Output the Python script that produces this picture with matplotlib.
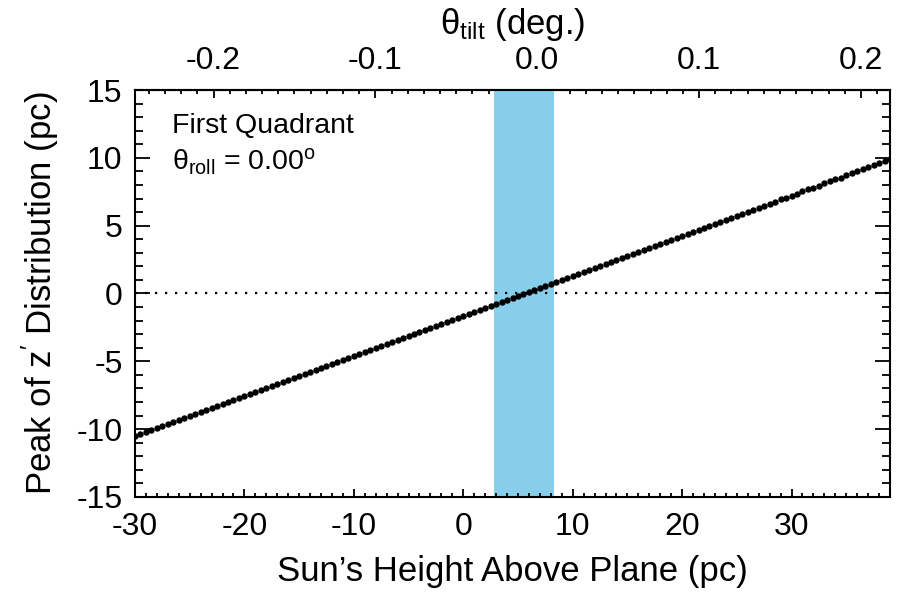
import matplotlib
matplotlib.use("Agg")
import matplotlib.pyplot as plt
from matplotlib.ticker import MultipleLocator

plt.rcParams["font.family"] = ["Liberation Sans", "DejaVu Sans"]
plt.rcParams["mathtext.fontset"] = "custom"
plt.rcParams["mathtext.rm"] = "Liberation Sans"
plt.rcParams["mathtext.it"] = "Liberation Sans:italic"
plt.rcParams["axes.unicode_minus"] = False

# DATA
sun_height = [
    -30.0, -29.5, -29.0, -28.5, -28.0, -27.5, -27.0, -26.5, -26.0, -25.5,
    -25.0, -24.5, -24.0, -23.5, -23.0, -22.5, -22.0, -21.5, -21.0, -20.5,
    -20.0, -19.5, -19.0, -18.5, -18.0, -17.5, -17.0, -16.5, -16.0, -15.5,
    -15.0, -14.5, -14.0, -13.5, -13.0, -12.5, -12.0, -11.5, -11.0, -10.5,
    -10.0, -9.5, -9.0, -8.5, -8.0, -7.5, -7.0, -6.5, -6.0, -5.5,
    -5.0, -4.5, -4.0, -3.5, -3.0, -2.5, -2.0, -1.5, -1.0, -0.5,
    0.0, 0.5, 1.0, 1.5, 2.0, 2.5, 3.0, 3.5, 4.0, 4.5,
    5.0, 5.5, 6.0, 6.5, 7.0, 7.5, 8.0, 8.5, 9.0, 9.5,
    10.0, 10.5, 11.0, 11.5, 12.0, 12.5, 13.0, 13.5, 14.0, 14.5,
    15.0, 15.5, 16.0, 16.5, 17.0, 17.5, 18.0, 18.5, 19.0, 19.5,
    20.0, 20.5, 21.0, 21.5, 22.0, 22.5, 23.0, 23.5, 24.0, 24.5,
    25.0, 25.5, 26.0, 26.5, 27.0, 27.5, 28.0, 28.5, 29.0, 29.5,
    30.0, 30.5, 31.0, 31.5, 32.0, 32.5, 33.0, 33.5, 34.0, 34.5,
    35.0, 35.5, 36.0, 36.5, 37.0, 37.5, 38.0, 38.5, 39.0,
]
peak_z = [
    -10.54, -10.39, -10.24, -10.09, -9.95, -9.80, -9.65, -9.50, -9.35, -9.21,
    -9.06, -8.91, -8.76, -8.61, -8.47, -8.32, -8.17, -8.02, -7.87, -7.73,
    -7.58, -7.43, -7.28, -7.13, -6.99, -6.84, -6.69, -6.54, -6.39, -6.25,
    -6.10, -5.95, -5.80, -5.65, -5.51, -5.36, -5.21, -5.06, -4.91, -4.77,
    -4.62, -4.47, -4.32, -4.17, -4.03, -3.88, -3.73, -3.58, -3.43, -3.29,
    -3.14, -2.99, -2.84, -2.69, -2.55, -2.40, -2.25, -2.10, -1.95, -1.81,
    -1.66, -1.51, -1.36, -1.21, -1.07, -0.92, -0.77, -0.62, -0.47, -0.33,
    -0.18, -0.03, 0.12, 0.27, 0.41, 0.56, 0.71, 0.86, 1.01, 1.15,
    1.30, 1.45, 1.60, 1.75, 1.89, 2.04, 2.19, 2.34, 2.49, 2.63,
    2.78, 2.93, 3.08, 3.23, 3.37, 3.52, 3.67, 3.82, 3.97, 4.11,
    4.26, 4.41, 4.56, 4.71, 4.85, 5.00, 5.15, 5.30, 5.45, 5.59,
    5.74, 5.89, 6.04, 6.19, 6.33, 6.48, 6.63, 6.78, 6.93, 7.07,
    7.22, 7.37, 7.52, 7.67, 7.81, 7.96, 8.11, 8.26, 8.41, 8.55,
    8.70, 8.85, 9.00, 9.15, 9.29, 9.44, 9.59, 9.74, 9.89,
]
band_range = [2.83, 8.25]
x_ticks = [-30, -20, -10, 0, 10, 20, 30]
y_ticks = [-15, -10, -5, 0, 5, 10, 15]
tilt_ticks = [-0.2, -0.1, 0.0, 0.1, 0.2]
tilt_labels = ["-0.2", "-0.1", "0.0", "0.1", "0.2"]

# conversion between sun height (pc) and tilt angle (deg)
Z_ZERO_TILT = 6.76
DEG_PER_PC = 0.00676


def to_tilt(z):
    return (z - Z_ZERO_TILT) * DEG_PER_PC


def from_tilt(t):
    return t / DEG_PER_PC + Z_ZERO_TILT


fig = plt.figure(figsize=(9, 6), dpi=100)
ax = fig.add_axes([0.15, 0.1717, 0.8389, 0.6783])

ax.axvspan(band_range[0], band_range[1], color="#87ceeb", lw=0, zorder=1)
ax.axhline(0, color="black", ls=(0, (1, 3.5)), lw=1.6, zorder=2)
ax.plot(sun_height, peak_z, "o", color="black", ms=4.6, mew=0, zorder=3)

ax.set_xlim(-30, 39)
ax.set_ylim(-15, 15)
ax.set_xticks(x_ticks)
ax.set_yticks(y_ticks)
ax.xaxis.set_minor_locator(MultipleLocator(1))
ax.yaxis.set_minor_locator(MultipleLocator(1))

ax.tick_params(axis="x", which="both", direction="in", top=False, bottom=True,
               labelsize=23, pad=11, width=1.3)
ax.tick_params(axis="x", which="major", length=6)
ax.tick_params(axis="x", which="minor", length=3)
ax.tick_params(axis="y", which="both", direction="in", left=True, right=True,
               labelsize=23, pad=9, width=1.3)
ax.tick_params(axis="y", which="major", length=11)
ax.tick_params(axis="y", which="minor", length=5.5)
for s in ax.spines.values():
    s.set_linewidth(1.5)

ax.set_xlabel("Sun\u2019s Height Above Plane (pc)", fontsize=25, labelpad=9)
ax.set_ylabel("Peak of z$^{\\prime}$ Distribution (pc)", fontsize=25, labelpad=11)

sec = ax.secondary_xaxis("top", functions=(to_tilt, from_tilt))
sec.set_xticks(tilt_ticks)
sec.set_xticklabels(tilt_labels)
sec.xaxis.set_minor_locator(MultipleLocator(0.01))
sec.tick_params(which="both", direction="in", labelsize=23, pad=10, width=1.3)
sec.tick_params(which="major", length=6)
sec.tick_params(which="minor", length=3)
sec.spines["top"].set_linewidth(1.5)
sec.set_xlabel("\u03b8$_{\\rm tilt}$ (deg.)", fontsize=25, labelpad=9)

ax.text(0.049, 0.894, "First Quadrant", transform=ax.transAxes,
        fontsize=20.5, va="baseline", ha="left")
ax.text(0.049, 0.803, "\u03b8$_{\\rm roll}$ = 0.00$^{\\rm o}$",
        transform=ax.transAxes, fontsize=20.5, va="baseline", ha="left")

fig.savefig("out.png", dpi=100)
